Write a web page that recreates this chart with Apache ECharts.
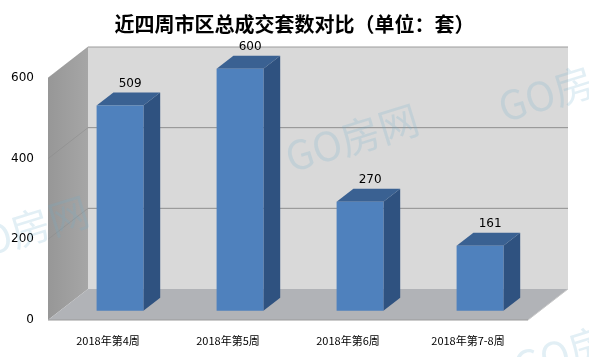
<!DOCTYPE html>
<html><head><meta charset="utf-8">
<script src="https://cdn.jsdelivr.net/npm/echarts@6/dist/echarts.min.js"></script>
<style>html,body{margin:0;padding:0;background:#fff}#c{width:589px;height:357px}</style>
</head><body><div id="c"></div>
<script>
var categories = ['2018年第4周', '2018年第5周', '2018年第6周', '2018年第7-8周'];
var values = [509, 600, 270, 161];
var yTicks = [0, 200, 400, 600];
var titleText = '近四周市区总成交套数对比（单位：套）';
var watermark = 'GO房网';

var DX = 40, DY = -31;          // depth offset of back wall
var BAR_FRONT = 0.3, BAR_DEPTH = 0.42, BAR_W = 0.39;

var chart = echarts.init(document.getElementById('c'));

function wallsItem(params, api) {
  var cs = params.coordSys;
  var x0 = cs.x, x1 = cs.x + cs.width, yb = cs.y + cs.height, yt = cs.y;
  var ch = [];
  ch.push({type:'polygon', shape:{points:[[x0+DX,yt+DY],[x1+DX,yt+DY],[x1+DX,yb+DY],[x0+DX,yb+DY]]},
    style:{fill:'#d9d9d9'}});
  ch.push({type:'polygon', shape:{points:[[x0,yb],[x0,yt],[x0+DX,yt+DY],[x0+DX,yb+DY]]},
    style:{fill:new echarts.graphic.LinearGradient(0,0,1,0,[{offset:0,color:'#979797'},{offset:1,color:'#a6a6a6'}])}});
  ch.push({type:'polygon', shape:{points:[[x0,yb],[x1,yb],[x1+DX,yb+DY],[x0+DX,yb+DY]]},
    style:{fill:'#b1b3b7'}});
  yTicks.forEach(function(t){
    if (t === 0) return;
    var p = api.coord([0, t]);
    var y = p[1];
    ch.push({type:'line', shape:{x1:x0+DX,y1:y+DY,x2:x1+DX,y2:y+DY}, style:{stroke: t===yTicks[yTicks.length-1]?'#9c9c9c':'#8f8f8f', lineWidth:1}});
    ch.push({type:'line', shape:{x1:x0,y1:y,x2:x0+DX,y2:y+DY}, style:{stroke:'#8a8a8a', lineWidth:1, opacity:0.5}});
  });
  ch.push({type:'line', shape:{x1:x0,y1:yb,x2:x1,y2:yb}, style:{stroke:'#9a9a9a', lineWidth:1}});
  ch.push({type:'line', shape:{x1:x1,y1:yb,x2:x1+DX,y2:yb+DY}, style:{stroke:'#c8c8c8', lineWidth:1}});
  return {type:'group', children:ch};
}

function barItem(params, api) {
  var i = api.value(0), v = api.value(1);
  var base = api.coord([i, 0]), top = api.coord([i, v]);
  var cw = api.size([1, 0])[0];
  var w = cw * BAR_W;
  var fx = DX * BAR_FRONT, fy = DY * BAR_FRONT;
  var ddx = DX * BAR_DEPTH, ddy = DY * BAR_DEPTH;
  var xl = base[0] - w/2 + fx, xr = base[0] + w/2 + fx;
  var yb = base[1] + fy, yt = top[1] + fy;
  return {type:'group', children:[
    {type:'polygon', shape:{points:[[xr,yb],[xr,yt],[xr+ddx,yt+ddy],[xr+ddx,yb+ddy]]}, style:{fill:'#2f5280'}},
    {type:'polygon', shape:{points:[[xl,yt],[xr,yt],[xr+ddx,yt+ddy],[xl+ddx,yt+ddy]]}, style:{fill:'#3a6192'}},
    {type:'rect', shape:{x:xl,y:yt,width:w,height:yb-yt}, style:{fill:'#4f81bd'}},
    {type:'text', x:(xl+xr)/2+ddx*0.6, y:yt+ddy-9, style:{text:String(v), fill:'#000', font:'12px "DejaVu Sans", Verdana, sans-serif', align:'center', verticalAlign:'middle'}}
  ]};
}

function wm(x, y, size) {
  return {type:'text', x:x, y:y, rotation:0.3, z:100, silent:true,
    style:{text:watermark, fill:'rgba(110,175,205,0.2)', font: size+'px "Noto Sans CJK SC", sans-serif', align:'center', verticalAlign:'middle'}};
}

chart.setOption({
  animation:false,
  title:{text:titleText, left:'center', top:9,
    textStyle:{fontSize:20, fontWeight:'bold', color:'#000', fontFamily:'"Noto Sans CJK SC", sans-serif'}},
  grid:{left:48, right:61, top:78, bottom:37},
  xAxis:{type:'category', data:categories, axisLine:{show:false}, axisTick:{show:false},
    axisLabel:{margin:15, fontSize:11, color:'#000', fontFamily:'"Noto Sans CJK SC", sans-serif'}},
  yAxis:{type:'value', min:0, max:600, interval:200, axisLine:{show:false}, axisTick:{show:false}, splitLine:{show:false},
    axisLabel:{margin:14, fontSize:12, color:'#000', padding:[4,0,0,0], fontFamily:'"DejaVu Sans", sans-serif'}},
  series:[
    {type:'custom', renderItem:wallsItem, data:[[0,0]], z:1, silent:true},
    {type:'custom', renderItem:barItem, data:values.map(function(v,i){return [i,v];}), z:2,
      encode:{x:0,y:1}}
  ],
  graphic:[wm(565,88,40), wm(352,138,40), wm(22,230,40), wm(580,348,40)]
});
</script></body></html>
